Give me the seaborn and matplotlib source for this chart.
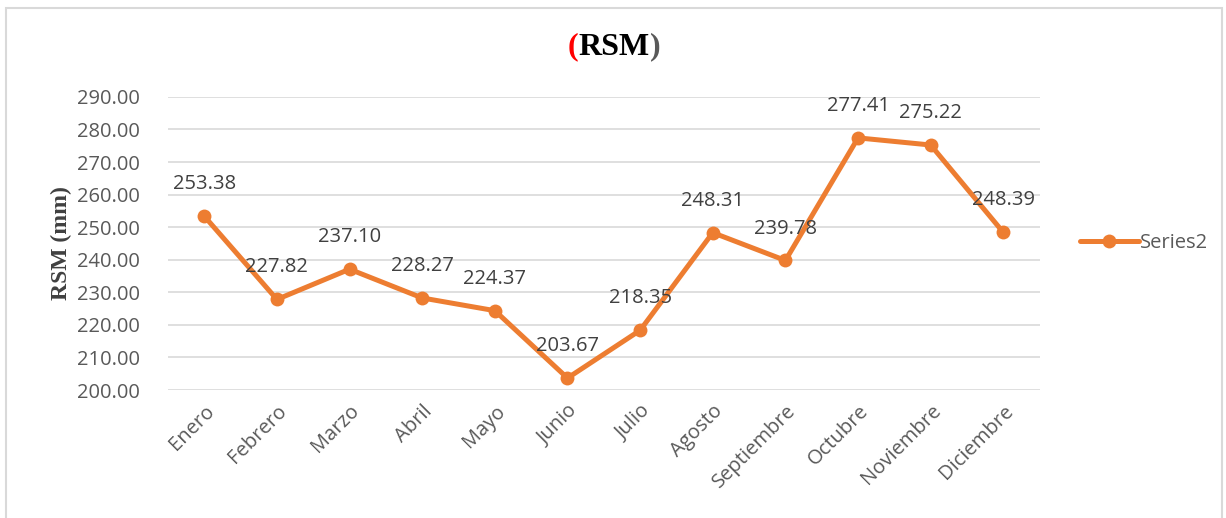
import numpy as np
import pandas as pd
import matplotlib as mpl
import matplotlib.pyplot as plt
import seaborn as sns

# data
meses = ['Enero', 'Febrero', 'Marzo', 'Abril', 'Mayo', 'Junio', 'Julio',
         'Agosto', 'Septiembre', 'Octubre', 'Noviembre', 'Diciembre']
rsm = [253.38, 227.82, 237.10, 228.27, 224.37, 203.67, 218.35,
       248.31, 239.78, 277.41, 275.22, 248.39]
y_ticks = [200, 210, 220, 230, 240, 250, 260, 270, 280, 290]

COLOR = "#ED7D31"
GRID = "#D9D9D9"
TICK = "#595959"
LABEL = "#404040"

sns.set_theme(style="white")
plt.rcParams['font.family'] = ['Open Sans', 'DejaVu Sans']

df = pd.DataFrame({'mes': meses, 'rsm': rsm})

fig = plt.figure(figsize=(12.26, 5.18), dpi=100)
ax = fig.add_axes([0.137, 0.247, 0.711, 0.566])

sns.lineplot(data=df, x='mes', y='rsm', sort=False, color=COLOR, lw=3.6,
             marker='o', markersize=10, markeredgewidth=0, label='Series2', ax=ax)

for i, v in enumerate(rsm):
    ax.annotate("%0.2f" % v, (i, v), xytext=(0, 23), textcoords='offset points',
                ha='center', va='center', fontsize=14.5, color=LABEL)

ax.set_xlim(-0.5, len(meses) - 0.5)
ax.set_ylim(200, 290)
ax.set_yticks(y_ticks)
ax.yaxis.set_major_formatter(mpl.ticker.FormatStrFormatter('%0.2f'))
ax.grid(axis='y', color=GRID, lw=1.2)
ax.set_axisbelow(True)
for s in ax.spines.values():
    s.set_visible(False)
ax.tick_params(axis='both', length=0, labelsize=14.5, labelcolor=TICK)
ax.tick_params(axis='y', pad=20)
ax.set_xticks(range(len(meses)))
ax.set_xticklabels(meses, rotation=45, ha='right', rotation_mode='anchor')
ax.tick_params(axis='x', pad=8)
ax.set_xlabel("")
ax.set_ylabel("RSM (mm)", fontsize=17, fontweight='bold', family='Liberation Serif',
              color="#404040", labelpad=4)

leg = ax.legend(loc='center left', bbox_to_anchor=(1.035, 0.5), frameon=False,
                fontsize=14.5, handlelength=2.9, handletextpad=0.05, borderpad=0)
for t in leg.get_texts():
    t.set_color(TICK)

# title in three colours, placed one after the other
tkw = dict(fontsize=23, fontweight='bold', family='Liberation Serif', va='center')
parts = [("(", "red"), ("RSM", "black"), (")", "#595959")]
texts = [fig.text(0, 0.909, s, color=c, ha='left', **tkw) for s, c in parts]
r = fig.canvas.get_renderer()
widths = [t.get_window_extent(r).width for t in texts]
x = 614 - sum(widths) / 2
for t, w in zip(texts, widths):
    t.set_x(x / 1226)
    x += w

# chart frame
fig.patches.append(mpl.patches.Rectangle((0.005, -0.01), 0.992, 0.995, transform=fig.transFigure,
                                         fill=False, edgecolor=GRID, lw=1.5))

fig.savefig('out.png', dpi=100)
